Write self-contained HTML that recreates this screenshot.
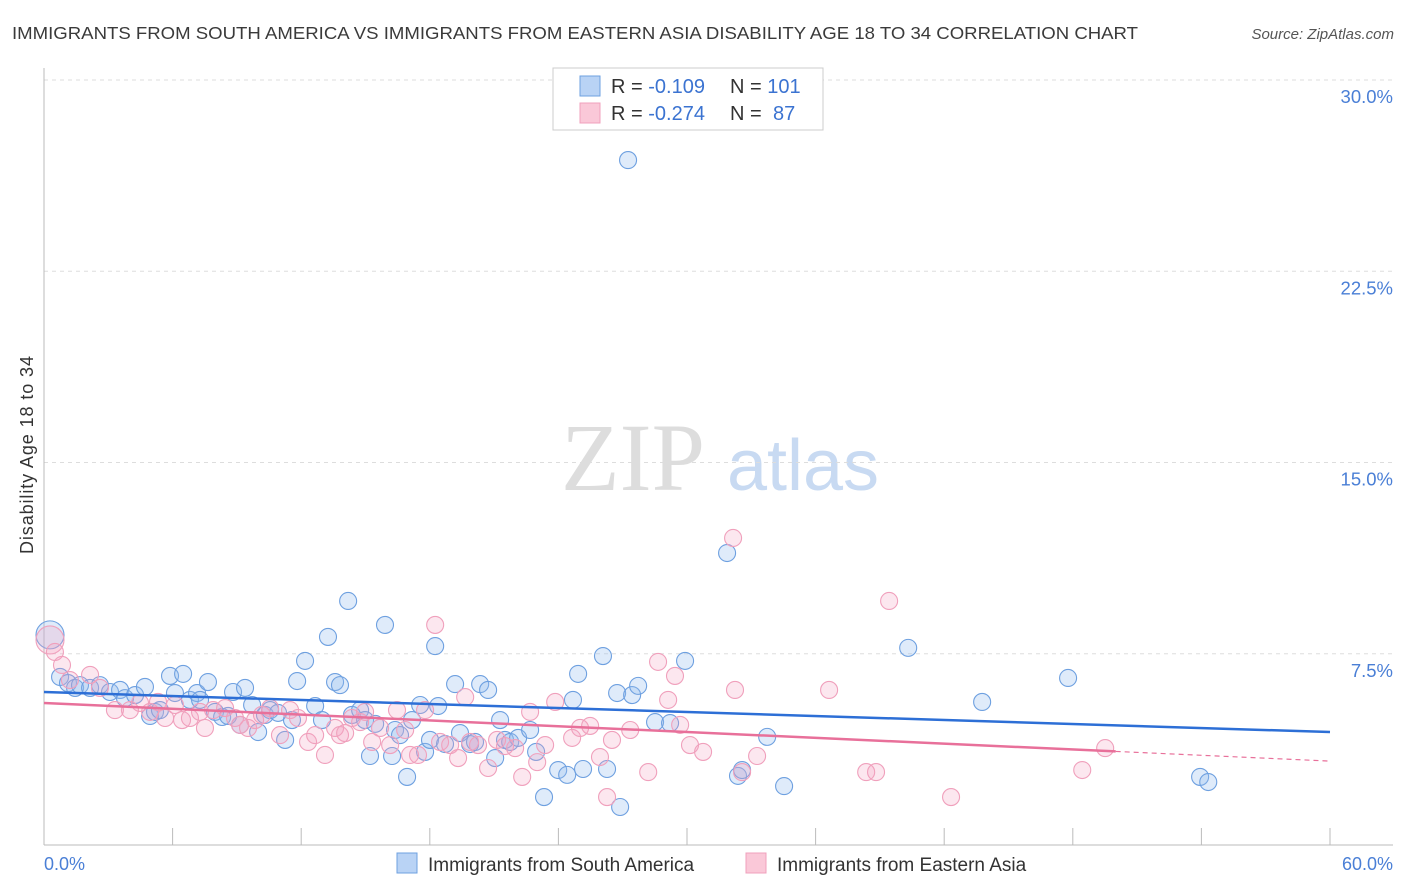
<!DOCTYPE html>
<html><head><meta charset="utf-8"><style>
body{margin:0;background:#fff;font-family:"Liberation Sans",sans-serif;}
svg{display:block}
</style></head><body>
<svg id="c" width="1406" height="892" xmlns="http://www.w3.org/2000/svg">
<text x="12" y="39" font-size="17.5" fill="#3a3a3a" textLength="1126" lengthAdjust="spacingAndGlyphs">IMMIGRANTS FROM SOUTH AMERICA VS IMMIGRANTS FROM EASTERN ASIA DISABILITY AGE 18 TO 34 CORRELATION CHART</text>
<text x="1394" y="39" font-size="15" fill="#555" font-style="italic" text-anchor="end">Source: ZipAtlas.com</text>
<text x="33" y="455" font-size="18" fill="#333" text-anchor="middle" textLength="198" transform="rotate(-90 33 455)">Disability Age 18 to 34</text>
<g><text x="633" y="490" font-size="96" fill="#ddd" font-family="Liberation Serif,serif" text-anchor="middle">ZIP</text><text x="803" y="490" font-size="72" fill="#c8daf2" text-anchor="middle">atlas</text></g>
<g id="grid"></g><g id="pts"></g><g id="trend"></g>
<g>
<rect x="553" y="68" width="270" height="62" fill="#fff" stroke="#ccc"/>
<rect x="580" y="76" width="20" height="20" fill="#b9d3f5" stroke="#6ea0e0"/>
<rect x="580" y="103" width="20" height="20" fill="#fac8d8" stroke="#f0a0bc"/>
<text x="611" y="93" font-size="20" fill="#333">R = <tspan fill="#3b73d1">-0.109</tspan></text>
<text x="730" y="93" font-size="20" fill="#333">N = <tspan fill="#3b73d1">101</tspan></text>
<text x="611" y="120" font-size="20" fill="#333">R = <tspan fill="#3b73d1">-0.274</tspan></text>
<text x="730" y="120" font-size="20" fill="#333">N = <tspan x="773" fill="#3b73d1">87</tspan></text>
</g>
<g>
<rect x="397" y="853" width="20" height="20" fill="#b9d3f5" stroke="#6ea0e0"/>
<text x="428" y="871" font-size="19" fill="#333">Immigrants from South America</text>
<rect x="746" y="853" width="20" height="20" fill="#fac8d8" stroke="#f0a0bc"/>
<text x="777" y="871" font-size="19" fill="#333">Immigrants from Eastern Asia</text>
</g>
<text x="44" y="870" font-size="18" fill="#4a7fd6">0.0%</text>
<text x="1393" y="870" font-size="18" fill="#4a7fd6" text-anchor="end">60.0%</text>
</svg>
<script>
const yTicks=[7.5,15,22.5,30];
const yTickLabels=["7.5%","15.0%","22.5%","30.0%"];
const blueX=[0.28,0.75,1.12,1.45,1.68,2.15,2.61,3.08,3.55,3.78,4.25,4.71,4.95,5.18,5.41,5.88,6.11,6.49,6.81,7.14,7.28,7.65,7.98,8.31,8.59,8.82,9.15,9.38,9.71,9.99,10.31,10.55,10.92,11.25,11.57,11.81,12.18,12.65,12.97,13.25,13.58,13.81,14.19,14.37,14.75,14.98,15.21,15.45,15.91,16.24,16.38,16.61,16.94,17.17,17.55,17.78,18.01,18.25,18.39,18.71,19.18,19.41,19.88,20.11,20.35,20.72,21.05,21.28,21.51,21.75,22.12,22.68,22.96,23.33,23.99,24.41,24.68,24.92,25.15,26.08,26.27,26.74,26.88,27.25,27.44,27.72,28.51,29.21,29.91,31.87,32.38,32.57,33.74,34.53,40.32,43.77,47.78,53.94,54.32];
const blueY=[8.24,6.59,6.35,6.16,6.27,6.16,6.27,6.0,6.08,5.76,5.88,6.2,5.06,5.22,5.29,6.63,5.96,6.71,5.69,5.96,5.69,6.39,5.22,5.02,5.06,6.0,4.71,6.16,5.49,4.43,5.1,5.29,5.18,4.12,4.9,6.43,7.22,5.45,4.9,8.16,6.39,6.27,9.57,5.1,5.29,4.9,3.49,4.75,8.63,3.49,4.51,4.31,2.67,4.9,5.49,3.65,4.12,7.8,5.45,3.96,6.31,4.39,3.96,4.04,6.31,6.08,3.41,4.9,4.12,4.04,4.2,4.51,3.65,1.88,2.94,2.75,5.69,6.71,2.98,7.41,2.98,5.96,1.49,26.86,5.88,6.24,4.82,4.78,7.22,11.45,2.71,2.94,4.24,2.31,7.73,5.61,6.55,2.67,2.47];
const pinkX=[0.28,0.51,0.84,1.21,2.15,2.61,3.31,4.01,4.48,4.95,5.32,5.65,6.11,6.44,6.81,7.28,7.51,7.89,8.45,8.91,9.15,9.52,9.85,10.17,10.55,11.01,11.48,11.85,12.32,12.65,13.11,13.58,13.81,14.05,14.37,14.75,14.98,15.31,15.68,16.15,16.47,16.85,17.08,17.45,17.78,18.25,18.48,18.95,19.32,19.65,19.88,20.25,20.72,21.14,21.51,21.98,22.31,22.68,23.01,23.38,23.85,24.64,25.01,25.48,25.94,26.27,26.5,27.35,28.19,28.65,29.12,29.44,29.68,30.14,30.75,32.15,32.24,32.57,33.27,36.63,38.36,38.82,39.43,42.32,48.44,49.51];
const pinkY=[8.04,7.57,7.06,6.47,6.67,6.16,5.29,5.29,5.57,5.22,5.61,4.98,5.49,4.9,4.98,5.22,4.59,5.29,5.37,4.98,4.71,4.59,4.9,5.1,5.37,4.31,5.29,4.98,4.04,4.31,3.53,4.59,4.31,4.39,4.98,4.82,5.22,4.04,4.59,3.92,5.29,4.51,3.53,3.53,5.29,8.63,4.04,3.92,3.41,5.8,4.04,3.92,3.02,4.12,3.88,3.8,2.67,5.22,3.25,3.92,5.61,4.2,4.59,4.67,3.45,1.88,4.12,4.51,2.86,7.18,5.69,6.63,4.71,3.92,3.65,12.04,6.08,2.86,3.49,6.08,2.86,2.86,9.57,1.88,2.94,3.8];
const blueTrend=[6.0,4.43];
const pinkTrend=[5.57,3.29];
const pinkSolidEnd=50;
const NS="http://www.w3.org/2000/svg";
const X=v=>44+v*(1286/60), Y=v=>845-v*(765/30);
function mk(t,a,p){const e=document.createElementNS(NS,t);for(const k in a)e.setAttribute(k,a[k]);p.appendChild(e);return e;}
const g=document.getElementById('grid');
yTicks.forEach((t,i)=>{
 const l=mk('line',{x1:44,x2:1393,y1:Y(t),y2:Y(t),stroke:'#ddd','stroke-dasharray':'4,4'},g);
 
 
 const tx=mk('text',{x:1393,y:Y(t)+23,'font-size':18.5,fill:'#4a7fd6','text-anchor':'end'},g);
 tx.textContent=yTickLabels[i];
 
 
});
const ax=mk('line',{x1:44,x2:1393,y1:845,y2:845,stroke:'#bbb'},g);


const ay=mk('line',{x1:44,x2:44,y1:68,y2:845,stroke:'#bbb'},g);


for(let i=1;i<=10;i++){const t=mk('line',{x1:X(i*6),x2:X(i*6),y1:828,y2:845,stroke:'#bbb'},g);
 
 }
const P=document.getElementById('pts');
function pts(xs,ys,fill,stroke,name){xs.forEach((x,i)=>{
 const r=(i===0)?14:8.5;
 const c=mk('circle',{cx:X(x),cy:Y(ys[i]),r:r,fill:fill,stroke:stroke,'stroke-width':1.1},P);
 
 });}
pts(blueX,blueY,'rgba(150,190,240,0.3)','#6ea0e0','point-south-america');
pts(pinkX,pinkY,'rgba(245,160,190,0.25)','#f0a0bc','point-eastern-asia');
const T=document.getElementById('trend');
const b=mk('line',{x1:X(0),y1:Y(blueTrend[0]),x2:X(60),y2:Y(blueTrend[1]),stroke:'#2d6fd6','stroke-width':2.5},T);


const py=x=>pinkTrend[0]+(pinkTrend[1]-pinkTrend[0])*x/60;
const p1=mk('line',{x1:X(0),y1:Y(py(0)),x2:X(pinkSolidEnd),y2:Y(py(pinkSolidEnd)),stroke:'#e8709a','stroke-width':2.5},T);


const p2=mk('line',{x1:X(pinkSolidEnd),y1:Y(py(pinkSolidEnd)),x2:X(60),y2:Y(py(60)),stroke:'#e8709a','stroke-width':1.2,'stroke-dasharray':'5,4'},T);


</script>
</body></html>
